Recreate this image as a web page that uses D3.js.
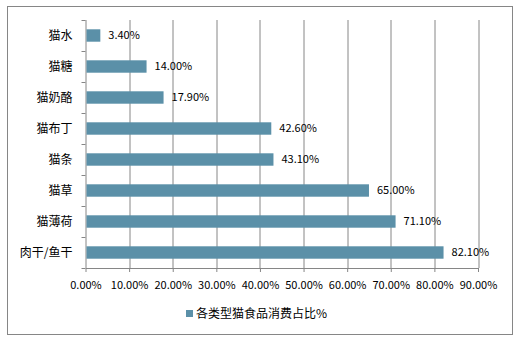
<!DOCTYPE html>
<html>
<head>
<meta charset="utf-8">
<script src="https://cdn.jsdelivr.net/npm/d3@7"></script>
<style>
  body { margin: 0; background: #fff; }
  text { font-family: "Noto Sans CJK SC", "DejaVu Sans", sans-serif; fill: #000; }
</style>
</head>
<body>
<div id="chart"></div>
<script>
const categories = ["猫水", "猫糖", "猫奶酪", "猫布丁", "猫条", "猫草", "猫薄荷", "肉干/鱼干"];
const values = [3.4, 14.0, 17.9, 42.6, 43.1, 65.0, 71.1, 82.1];
const xTicks = [0, 10, 20, 30, 40, 50, 60, 70, 80, 90];
const seriesName = "各类型猫食品消费占比%";

const W = 525, H = 340;
const margin = { top: 20, right: 47, bottom: 72, left: 85.5 };
const width = W - margin.left - margin.right,
  height = H - margin.top - margin.bottom;

const barColor = "#5b90a8";
const gridColor = "#868686";

const svg = d3.select("#chart")
  .append("svg")
  .attr("width", W)
  .attr("height", H);

// outer frame
svg.append("rect")
  .attr("x", 7.5).attr("y", 6.5)
  .attr("width", 505).attr("height", 328)
  .attr("fill", "none")
  .attr("stroke", gridColor)
  .attr("stroke-width", 1);

const g = svg.append("g")
  .attr("transform", `translate(${margin.left},${margin.top})`);

const x = d3.scaleLinear().domain([0, 90]).range([0, width]);
const y = d3.scaleBand().domain(categories.slice().reverse().reverse()).range([0, height]).paddingInner(0.6).paddingOuter(0.3);

// gridlines
g.append("g")
  .selectAll("line")
  .data(xTicks.slice(1))
  .join("line")
  .attr("x1", d => Math.round(x(d)) + 0.5)
  .attr("x2", d => Math.round(x(d)) + 0.5)
  .attr("y1", 0)
  .attr("y2", height)
  .attr("stroke", gridColor);

// bottom axis
const xAxis = g.append("g")
  .attr("transform", `translate(0,${height})`)
  .call(d3.axisBottom(x).tickValues(xTicks).tickFormat(d => d.toFixed(2) + "%").tickSize(4).tickSizeOuter(0));
xAxis.select(".domain").attr("stroke", gridColor);
xAxis.selectAll(".tick line").attr("stroke", gridColor);
xAxis.selectAll(".tick text")
  .attr("dy", 0).attr("y", 21)
  .style("font-size", "11px");

// left axis
const yStep = height / categories.length;
const yAxisG = g.append("g");
yAxisG.append("line")
  .attr("x1", 0.5).attr("x2", 0.5)
  .attr("y1", 0).attr("y2", height)
  .attr("stroke", gridColor);
yAxisG.selectAll("line.tk")
  .data(d3.range(categories.length + 1))
  .join("line")
  .attr("class", "tk")
  .attr("x1", -4).attr("x2", 0)
  .attr("y1", i => Math.round(i * yStep) + 0.5)
  .attr("y2", i => Math.round(i * yStep) + 0.5)
  .attr("stroke", gridColor);
yAxisG.selectAll("text")
  .data(categories)
  .join("text")
  .attr("x", -13)
  .attr("y", d => y(d) + y.bandwidth() / 2)
  .attr("dy", "0.35em")
  .attr("text-anchor", "end")
  .style("font-size", "12px")
  .text(d => d);

// bars
g.selectAll("rect.bar")
  .data(categories)
  .join("rect")
  .attr("class", "bar")
  .attr("x", 1)
  .attr("y", d => y(d))
  .attr("width", (d, i) => x(values[i]) - 1)
  .attr("height", y.bandwidth())
  .attr("fill", barColor);

// value labels
g.selectAll("text.val")
  .data(categories)
  .join("text")
  .attr("class", "val")
  .attr("x", (d, i) => x(values[i]) + 8)
  .attr("y", d => y(d) + y.bandwidth() / 2)
  .attr("dy", "0.35em")
  .style("font-size", "11px")
  .text((d, i) => values[i].toFixed(2) + "%");

// legend
const legend = svg.append("g").attr("transform", "translate(186,314)");
legend.append("rect")
  .attr("x", 0).attr("y", -4)
  .attr("width", 7).attr("height", 7)
  .attr("fill", barColor);
legend.append("text")
  .attr("x", 10).attr("y", 0)
  .attr("dy", "0.35em")
  .style("font-size", "12px")
  .text(seriesName);
</script>
</body>
</html>
